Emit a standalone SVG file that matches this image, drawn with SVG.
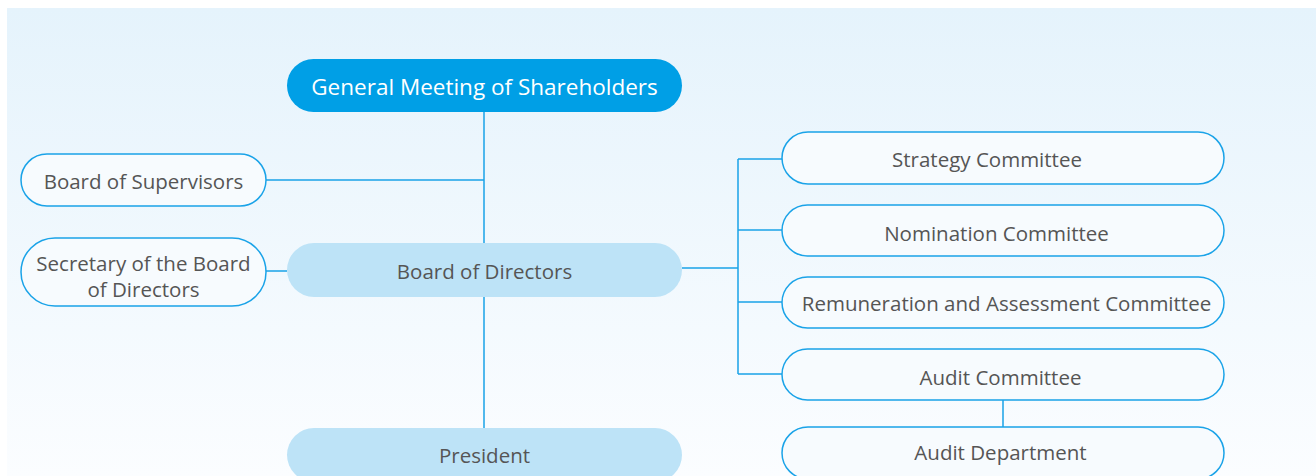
<svg xmlns="http://www.w3.org/2000/svg" width="1316" height="476" viewBox="0 0 1316 476">
<defs>
<linearGradient id="bg" x1="0" y1="0" x2="0" y2="1">
<stop offset="0" stop-color="#e5f3fc"/>
<stop offset="1" stop-color="#fbfdff"/>
</linearGradient>
</defs>
<style>
.t{font-family:"Open Sans","Liberation Sans",sans-serif;font-size:20.5px;fill:#555;text-anchor:middle;dominant-baseline:central}
.w{fill:#fff;font-size:22.5px}
.o{fill:#f7fbfe;stroke:#1aa3e8;stroke-width:1.5}
.l{fill:#bde3f7}
.d{fill:#009fe6}
.c{fill:none;stroke:#1aa3e8;stroke-width:1.5}
</style>
<rect width="1316" height="476" fill="#fff"/>
<rect x="7" y="8" width="1309" height="468" fill="url(#bg)"/>
<g id="connectors">
<path class="c" d="M484 112V243M266 180H484M266 271H287M484 297V428M682 268H738M738 159V374M738 159H782M738 230H782M738 302H782M738 374H782M1003 400V427"/>
</g>
<g id="gm"><rect class="d" x="287" y="59" width="395" height="53" rx="26.5"/><text class="t w" x="484.5" y="86">General Meeting of Shareholders</text></g>
<g id="supervisors"><rect class="o" x="21" y="154" width="245" height="52" rx="26"/><text class="t" x="143.5" y="181">Board of Supervisors</text></g>
<g id="secretary"><rect class="o" x="21" y="238" width="245" height="68" rx="34"/><text class="t" x="143.5" y="263">Secretary of the Board</text><text class="t" x="143.5" y="289">of Directors</text></g>
<g id="bod"><rect class="l" x="287" y="243" width="395" height="54" rx="27"/><text class="t" x="484.5" y="271">Board of Directors</text></g>
<g id="president"><rect class="l" x="287" y="428" width="395" height="54" rx="27"/><text class="t" x="484.5" y="455">President</text></g>
<g id="strategy"><rect class="o" x="782" y="132" width="442" height="52" rx="26"/><text class="t" x="987" y="159">Strategy Committee</text></g>
<g id="nomination"><rect class="o" x="782" y="205" width="442" height="51" rx="25.5"/><text class="t" x="996.5" y="233">Nomination Committee</text></g>
<g id="remuneration"><rect class="o" x="782" y="277" width="442" height="51" rx="25.5"/><text class="t" x="1006.5" y="303">Remuneration and Assessment Committee</text></g>
<g id="auditc"><rect class="o" x="782" y="349" width="442" height="51" rx="25.5"/><text class="t" x="1000.5" y="377">Audit Committee</text></g>
<g id="auditd"><rect class="o" x="782" y="427" width="442" height="52" rx="26"/><text class="t" x="1000.5" y="452">Audit Department</text></g>
</svg>
